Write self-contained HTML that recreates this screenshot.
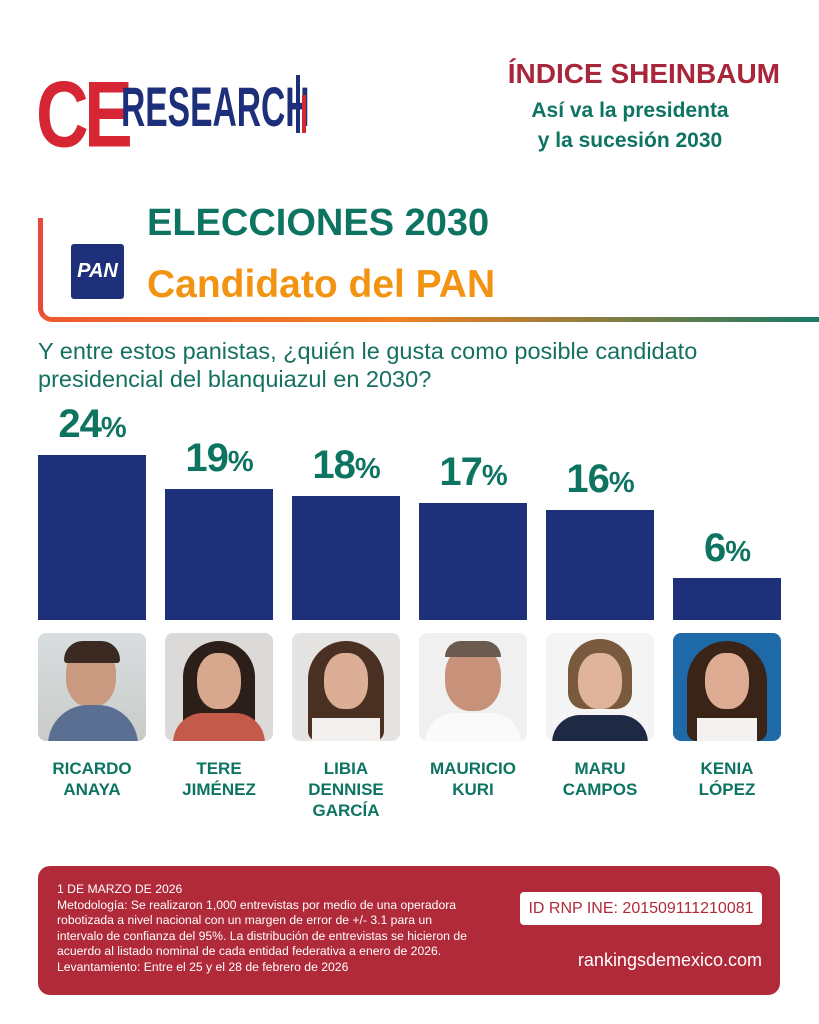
<!DOCTYPE html>
<html><head><meta charset="utf-8"><style>
*{margin:0;padding:0;box-sizing:border-box}
body{width:819px;height:1024px;background:#fff;position:relative;overflow:hidden;font-family:"Liberation Sans","DejaVu Sans",sans-serif}
.a{position:absolute}
.bar{position:absolute;background:#1d3079;width:108px;bottom:404px}
.pct{position:absolute;width:108px;text-align:center;color:#0e7462;font-weight:bold;font-size:40px;letter-spacing:-1px}
.pct span{font-size:29px}
.ph{position:absolute;top:633px;width:108px;height:108px;border-radius:8px;overflow:hidden;background:#e9e9ec}
.nm{position:absolute;top:758px;width:108px;text-align:center;color:#0e7462;font-weight:bold;font-size:17px;line-height:21px}
</style></head><body>
<div class="a" style="left:36px;top:68px;font-size:96px;font-weight:bold;color:#d62633;letter-spacing:-6px;line-height:96px;transform:scale(0.76,0.98);transform-origin:left top">CE</div>
<div class="a" style="left:121px;top:80px;font-size:60px;color:#1d2f7a;line-height:60px;transform:scale(0.56,0.92);transform-origin:left top;font-weight:bold">RESEARCH</div>
<div class="a" style="left:296px;top:75px;width:4px;height:58px;background:#1d2f7a"></div>
<div class="a" style="left:302px;top:95px;width:4px;height:38px;background:#d62633"></div>
<div class="a" style="left:440px;top:58px;width:340px;text-align:right;color:#a8263a;font-weight:bold;font-size:28px">ÍNDICE SHEINBAUM</div>
<div class="a" style="left:485px;top:96px;width:290px;text-align:center;color:#0e7462;font-weight:bold;font-size:21px;line-height:30px">Así va la presidenta<br>y la sucesión 2030</div>
<div class="a" style="left:38px;top:218px;width:5px;height:92px;background:#e84a3a"></div>
<div class="a" style="left:38px;top:300px;width:20px;height:22px;border-left:5px solid #e84a3a;border-bottom:5px solid #ee5a30;border-radius:0 0 0 14px"></div>
<div class="a" style="left:56px;top:317px;width:763px;height:5px;background:linear-gradient(90deg,#ee5a30,#f08020 45%,#1a7a66)"></div>
<div class="a" style="left:71px;top:244px;width:53px;height:55px;background:#1d3079;border-radius:3px;color:#fff;font-weight:bold;font-style:italic;font-size:20px;text-align:center;line-height:55px">PAN</div>
<div class="a" style="left:147px;top:202px;color:#0e7462;font-weight:bold;font-size:38px">ELECCIONES 2030</div>
<div class="a" style="left:147px;top:263px;color:#f39312;font-weight:bold;font-size:39px">Candidato del PAN</div>
<div class="a" style="left:38px;top:337px;color:#14705f;font-size:23.5px;line-height:28px">Y entre estos panistas, ¿quién le gusta como posible candidato<br>presidencial del blanquiazul en 2030?</div>

<div class="bar" style="left:38px;height:165px"></div>
<div class="bar" style="left:165px;height:131px"></div>
<div class="bar" style="left:292px;height:124px"></div>
<div class="bar" style="left:419px;height:117px"></div>
<div class="bar" style="left:546px;height:110px"></div>
<div class="bar" style="left:673px;height:42px"></div>
<div class="pct" style="left:38px;top:402px">24<span>%</span></div>
<div class="pct" style="left:165px;top:436px">19<span>%</span></div>
<div class="pct" style="left:292px;top:443px">18<span>%</span></div>
<div class="pct" style="left:419px;top:450px">17<span>%</span></div>
<div class="pct" style="left:546px;top:457px">16<span>%</span></div>
<div class="pct" style="left:673px;top:526px">6<span>%</span></div>

<div class="ph" style="left:38px;background:linear-gradient(#d8dde0,#c9ccc8)"><div class="a" style="left:28px;top:12px;width:50px;height:62px;border-radius:45%;background:#c99a80"></div><div class="a" style="left:10px;top:72px;width:90px;height:40px;border-radius:40px 40px 0 0;background:#5a6f92"></div><div class="a" style="left:26px;top:8px;width:56px;height:22px;border-radius:30px 30px 5px 5px;background:#3a2a22"></div></div>
<div class="ph" style="left:165px;background:#dcdad8"><div class="a" style="left:18px;top:8px;width:72px;height:90px;border-radius:40px 40px 10px 10px;background:#2c1e18"></div><div class="a" style="left:32px;top:20px;width:44px;height:56px;border-radius:45%;background:#d8a88e"></div><div class="a" style="left:8px;top:80px;width:92px;height:30px;border-radius:30px 30px 0 0;background:#c45a4a"></div></div>
<div class="ph" style="left:292px;background:#e6e4e2"><div class="a" style="left:16px;top:8px;width:76px;height:100px;border-radius:40px 40px 10px 10px;background:#4a3022"></div><div class="a" style="left:32px;top:20px;width:44px;height:56px;border-radius:45%;background:#dcae96"></div><div class="a" style="left:20px;top:85px;width:68px;height:25px;background:#f2f0ee"></div></div>
<div class="ph" style="left:419px;background:#f0f0f0"><div class="a" style="left:26px;top:12px;width:56px;height:66px;border-radius:45%;background:#c8927a"></div><div class="a" style="left:26px;top:8px;width:56px;height:16px;border-radius:30px 30px 0 0;background:#6a5a50"></div><div class="a" style="left:6px;top:80px;width:96px;height:30px;border-radius:30px 30px 0 0;background:#fafafa"></div></div>
<div class="ph" style="left:546px;background:#f4f4f4"><div class="a" style="left:22px;top:6px;width:64px;height:70px;border-radius:40px 40px 20px 20px;background:#7a5a3e"></div><div class="a" style="left:32px;top:20px;width:44px;height:56px;border-radius:45%;background:#e0b49a"></div><div class="a" style="left:6px;top:82px;width:96px;height:28px;border-radius:30px 30px 0 0;background:#1e2a44"></div></div>
<div class="ph" style="left:673px;background:#1e6aa8"><div class="a" style="left:14px;top:8px;width:80px;height:100px;border-radius:40px 40px 10px 10px;background:#3a2418"></div><div class="a" style="left:32px;top:20px;width:44px;height:56px;border-radius:45%;background:#deac92"></div><div class="a" style="left:24px;top:85px;width:60px;height:25px;background:#f4f2f0"></div></div>

<div class="nm" style="left:38px">RICARDO<br>ANAYA</div>
<div class="nm" style="left:165px">TERE<br>JIMÉNEZ</div>
<div class="nm" style="left:292px">LIBIA<br>DENNISE<br>GARCÍA</div>
<div class="nm" style="left:419px">MAURICIO<br>KURI</div>
<div class="nm" style="left:546px">MARU<br>CAMPOS</div>
<div class="nm" style="left:673px">KENIA<br>LÓPEZ</div>

<div class="a" style="left:38px;top:866px;width:742px;height:129px;background:#b02a3a;border-radius:12px"></div>
<div class="a" style="left:57px;top:882px;color:#fff;font-size:12.2px;line-height:15.5px;width:520px;white-space:nowrap">1 DE MARZO DE 2026<br>Metodología: Se realizaron 1,000 entrevistas por medio de una operadora<br>robotizada a nivel nacional con un margen de error de +/- 3.1 para un<br>intervalo de confianza del 95%. La distribución de entrevistas se hicieron de<br>acuerdo al listado nominal de cada entidad federativa a enero de 2026.<br>Levantamiento: Entre el 25 y el 28 de febrero de 2026</div>
<div class="a" style="left:520px;top:892px;width:242px;height:33px;background:#fff;border-radius:4px;color:#b02a3a;font-size:16px;text-align:center;line-height:33px">ID RNP INE: 201509111210081</div>
<div class="a" style="left:520px;top:950px;width:242px;text-align:right;color:#fff;font-size:18px">rankingsdemexico.com</div>
</body></html>
